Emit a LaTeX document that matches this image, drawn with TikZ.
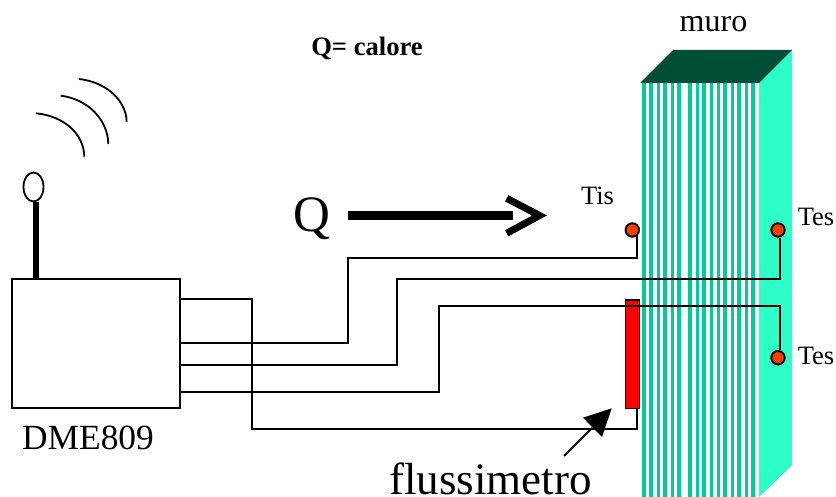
\documentclass[tikz,border=0pt]{standalone}
\usepackage{fontspec}
\usetikzlibrary{shapes.geometric}
\setmainfont{Liberation Serif}
\definecolor{stripeColor}{RGB}{0, 204, 153}
\definecolor{sideColor}{RGB}{45, 255, 200}
\definecolor{topColor}{RGB}{0, 77, 56}
\definecolor{probeColor}{RGB}{255, 60, 0}
\tikzset{
  wire/.style={draw=black, line width=1.9pt},
  probe/.style={circle, draw=black, fill=probeColor, line width=1.9pt, minimum size=13.5pt, inner sep=0pt},
  wave/.style={draw=black, line width=1.8pt},
  label/.style={inner sep=0pt, anchor=base}
}
\begin{document}
\begin{tikzpicture}[x=1pt, y=-1pt]
  \useasboundingbox (0,0) rectangle (836,497);
  % wall
  \fill[sideColor] (759,83) -- (792,50) -- (792,465) -- (759,497) -- cycle;
  \foreach \xpos in {644,651,658.3,665,672.3,679,690,697.3,704,711.3,718.3,725,732.3,739,746.3,753}
    \fill[stripeColor] (\xpos-1.7,83) rectangle (\xpos+1.7,497);
  \fill[topColor] (640,83) -- (673,50) -- (792,50) -- (759,83) -- cycle;
  % logger and antenna
  \draw[line width=6.5pt] (36,202) -- (36,279);
  \node[draw=black, fill=white, line width=1.8pt, ellipse, minimum width=20pt, minimum height=29pt, inner sep=0pt] (whip) at (33.5,187) {};
  \node[draw=black, fill=white, line width=1.9pt, minimum width=168pt, minimum height=129pt, inner sep=0pt] (logger) at (96,343.5) {};
  \draw[wave] (36,113.3) .. controls (64,116) and (84,134) .. (84.3,156.7);
  \draw[wave] (60.7,95.7) .. controls (88,99) and (108,120) .. (108.3,144);
  \draw[wave] (79,79) .. controls (106,82) and (126,100) .. (126.7,121.7);
  % sensors
  \node[draw=black, fill=red, line width=1.9pt, minimum width=14pt, minimum height=108.5pt, inner sep=0pt] (flux) at (632.5,354.2) {};
  \node[probe] (tis) at (632.3,230) {};
  \node[probe] (tesa) at (778,230) {};
  \node[probe] (tesb) at (778,357.7) {};
  % wires
  \draw[wire] (logger.east |- 0,299) -- (252,299) -- (252,429) -- (637,429) -- (flux.south -| 637,0);
  \draw[wire] (logger.east |- 0,343) -- (348,343) -- (348,258) -- (637,258) -- (tis.south east -| 637,0);
  \draw[wire] (logger.east |- 0,365) -- (397,365) -- (397,279) -- (780,279) -- (tesa.south -| 780,0);
  \draw[wire] (logger.east |- 0,392) -- (439,392) -- (439,306) -- (780,306) -- (tesb.north -| 780,0);
  % labels
  \node[label] (muro) at (713.5,32) {\fontsize{32}{32}\selectfont muro};
  \node[label] (title) at (367,55.7) {\fontsize{26.6}{26.6}\selectfont\bfseries Q= calore};
  \node[label] (tislabel) at (597.5,205) {\fontsize{26.5}{26.5}\selectfont Tis};
  \node[label] (teslabela) at (816,226) {\fontsize{26.5}{26.5}\selectfont Tes};
  \node[label] (teslabelb) at (816,364) {\fontsize{26.5}{26.5}\selectfont Tes};
  \node[label] (dme) at (88,449) {\fontsize{35.4}{35.4}\selectfont DME809};
  \node[label] (fluxlabel) at (490.7,494.5) {\fontsize{45}{45}\selectfont flussimetro};
  \node[label] (qlabel) at (311.7,231.7) {\fontsize{51}{51}\selectfont Q};
  % arrows
  \coordinate (qstart) at (348,215.3);
  \coordinate (qtip) at (539.5,215.5);
  \draw[line width=8.5pt] (qstart) -- (513,215.3);
  \draw[line width=7pt, miter limit=10] (506.7,198.3) -- (qtip) -- (506.7,233.3);
  \coordinate (fluxtail) at (564,456);
  \draw[line width=1.8pt] (fluxtail) -- (592,428);
  \fill (611.7,408.3) -- (583,417.7) -- (602,437) -- cycle;
\end{tikzpicture}
\end{document}
